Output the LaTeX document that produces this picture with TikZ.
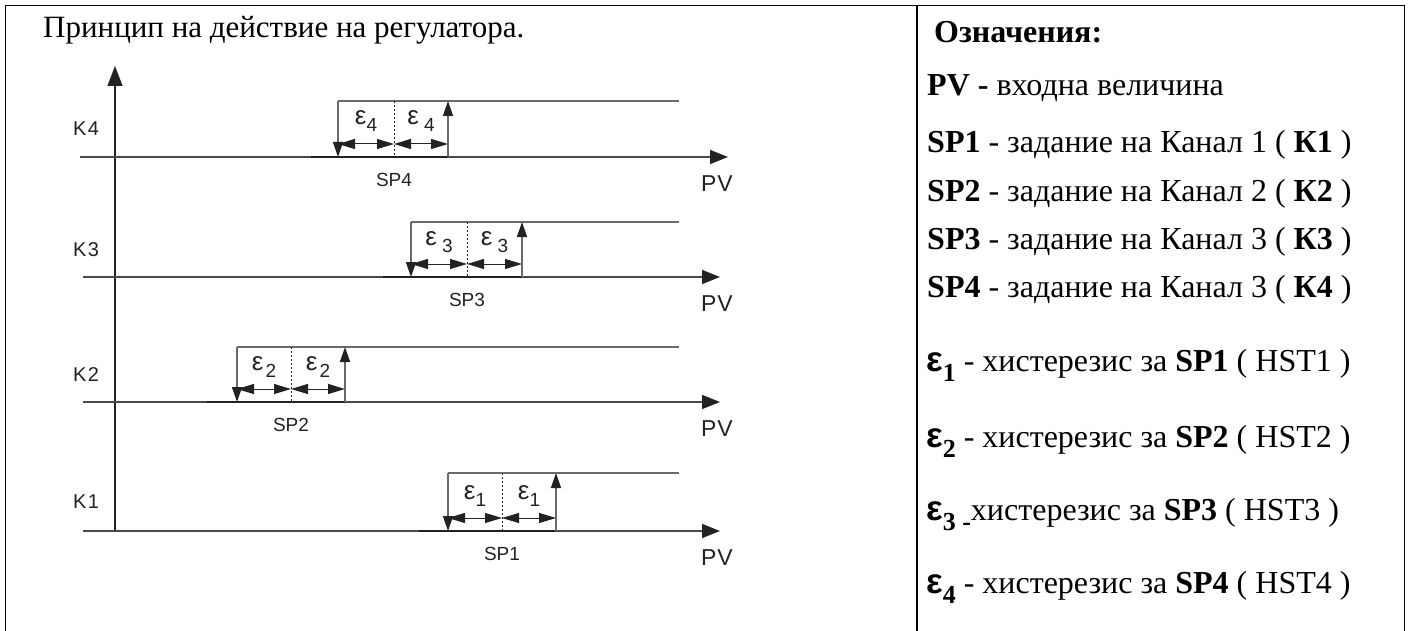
\documentclass[tikz,border=0pt]{standalone}
\usepackage{fontspec}
\setmainfont{Liberation Serif}
\newfontfamily\arialf{Liberation Sans}
\usetikzlibrary{arrows.meta}
\definecolor{ink}{HTML}{222222}
\definecolor{lgray}{HTML}{4a4a4a}
\definecolor{vgray}{HTML}{6a6a6a}
\newcommand\deps[2]{ε\kern#2\raisebox{-7pt}{\fontsize{19}{19}\selectfont #1}}
\newcommand\myeps[1]{{\arialf\bfseries\fontsize{35}{35}\selectfont ε}\raisebox{-10pt}{\fontsize{26}{26}\selectfont\bfseries #1}}
\begin{document}
\begin{tikzpicture}[x=1pt,y=-1pt,
  frame/.style={draw=black, line width=1.3pt},
  baseln/.style={draw=lgray, line width=1.2pt, -{Triangle[length=18pt,width=14pt,color=ink]}},
  darkseg/.style={draw=ink, line width=1.6pt},
  upln/.style={draw=vgray, line width=1.2pt},
  vert/.style={draw=vgray, line width=1.4pt, -{Triangle[length=15pt,width=10pt,color=ink]}},
  dashln/.style={draw=ink, line width=0.7pt, dash pattern=on 2pt off 2pt},
  dbl/.style={draw=ink, line width=1pt, {Triangle[length=17pt,width=10pt]}-{Triangle[length=17pt,width=10pt]}},
  klab/.style={font=\arialf\fontsize{20}{20}\selectfont, text=ink, inner sep=0pt},
  splab/.style={font=\arialf\fontsize{19}{19}\selectfont, text=ink, inner sep=0pt},
  pvlab/.style={font=\arialf\fontsize{23}{23}\selectfont, text=ink, inner sep=0pt},
  epslab/.style={font=\arialf\fontsize{26}{26}\selectfont, text=ink, inner sep=0pt, anchor=base},
  leg/.style={font=\fontsize{32}{38}\selectfont, anchor=base west, inner sep=0pt}
]
\useasboundingbox (0,0) rectangle (1410,631);
% frame
\coordinate (F1) at (5.5,631);
\coordinate (F2) at (5.5,5.5);
\coordinate (F3) at (1404.5,5.5);
\coordinate (F4) at (1404.5,631);
\coordinate (G1) at (917,5.5);
\coordinate (G2) at (917,631);
\draw[frame] (F1) -- (F2) -- (F3) -- (F4);
\draw[frame] (G1) -- (G2);
% title
\node[anchor=base west, inner sep=0pt, font=\fontsize{31}{36}\selectfont] (title) at (43,38) {Принцип на действие на регулатора.};
% y axis
\coordinate (Y0) at (115,531);
\coordinate (Y1) at (115,66);
\draw[draw=ink, line width=1.2pt, -{Triangle[length=20pt,width=15pt]}] (Y0) -- (Y1);
% channels
\foreach \k/\yb/\yu/\xl/\xm/\xr/\xs/\xe/\xd/\ga/\gb in
  {4/157/101/338/394/448/80/728/311/0pt/5pt,
   3/277/222/411/467/522/83/720/383/5pt/5pt,
   2/402/347/237/291/345/83/720/207/2pt/2pt,
   1/531/473/448/502/556/83/720/419/0pt/0pt}{
  \coordinate (S\k) at ({\xs},{\yb});
  \coordinate (E\k) at ({\xe},{\yb});
  \coordinate (D\k) at ({\xd},{\yb});
  \coordinate (BL\k) at ({\xl},{\yb});
  \coordinate (BM\k) at ({\xm},{\yb});
  \coordinate (BR\k) at ({\xr},{\yb});
  \coordinate (UL\k) at ({\xl},{\yu});
  \coordinate (UM\k) at ({\xm},{\yu});
  \coordinate (UR\k) at ({\xr},{\yu});
  \coordinate (UE\k) at (679,{\yu});
  \coordinate (AL\k) at ({\xl},{\yb-13});
  \coordinate (AM\k) at ({\xm},{\yb-13});
  \coordinate (AR\k) at ({\xr},{\yb-13});
  \draw[baseln] (S\k) -- (E\k);
  \draw[darkseg] (D\k) -- (BR\k);
  \draw[upln] (UE\k) -- (UL\k);
  \draw[vert] (UL\k) -- (BL\k);
  \draw[vert] (BR\k) -- (UR\k);
  \draw[dashln] (UM\k) -- (BM\k);
  \draw[dbl] (AL\k) -- (AM\k);
  \draw[dbl] (AM\k) -- (AR\k);
  \node[klab] (K\k) at (86,{(\yb+\yu)/2}) {K\kern1.5pt\k};
  \node[splab] (SP\k) at ({\xm},{\yb+23}) {SP\k};
  \node[pvlab] (PV\k) at (717,{\yb+27}) {P\kern1pt V};
  \node[epslab] (EA\k) at ({(\xl+\xm)/2},{\yb-32}) {\deps{\k}{\ga}};
  \node[epslab] (EB\k) at ({(\xm+\xr)/2},{\yb-32}) {\deps{\k}{\gb}};
}
% legend
\node[leg] (lg0) at (934,43) {\textbf{Означения:}};
\node[leg] (lg1) at (927,96) {\textbf{PV -} входна величина};
\node[leg] (lg2) at (927,153) {\textbf{SP1} - задание на Канал 1 ( \textbf{К1} )};
\node[leg] (lg3) at (927,201) {\textbf{SP2} - задание на Канал 2 ( \textbf{К2} )};
\node[leg] (lg4) at (927,249) {\textbf{SP3} - задание на Канал 3 ( \textbf{К3} )};
\node[leg] (lg5) at (927,297) {\textbf{SP4} - задание на Канал 3 ( \textbf{К4} )};
\node[leg] (lg6) at (926,371) {\myeps{1} - хистерезис за \textbf{SP1} ( HST1 )};
\node[leg] (lg7) at (926,447) {\myeps{2} - хистерезис за \textbf{SP2} ( HST2 )};
\node[leg] (lg8) at (926,520) {\myeps{3 -}хистерезис за \textbf{SP3} ( HST3 )};
\node[leg] (lg9) at (926,593) {\myeps{4} - хистерезис за \textbf{SP4} ( HST4 )};
\end{tikzpicture}
\end{document}
